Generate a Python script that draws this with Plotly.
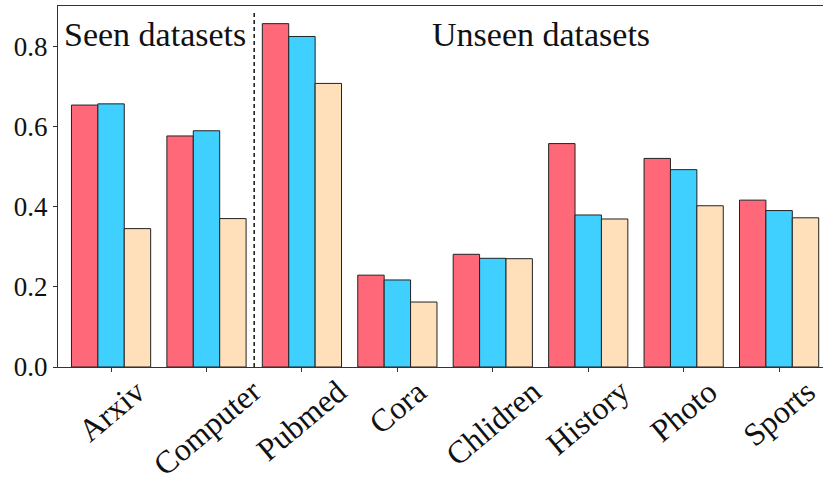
import plotly.graph_objects as go

categories = ["Arxiv", "Computer", "Pubmed", "Cora", "Chlidren", "History", "Photo", "Sports"]
series_a = [0.653, 0.576, 0.856, 0.229, 0.281, 0.557, 0.520, 0.416]
series_b = [0.656, 0.589, 0.824, 0.217, 0.271, 0.379, 0.492, 0.390]
series_c = [0.345, 0.370, 0.707, 0.162, 0.270, 0.369, 0.402, 0.372]
y_ticks = [0.0, 0.2, 0.4, 0.6, 0.8]

colors = ["#FF6878", "#3FD0FF", "#FFE0BA"]
FONT = "Liberation Serif"

fig = go.Figure()
for vals, col in zip([series_a, series_b, series_c], colors):
    fig.add_trace(go.Bar(
        x=categories, y=vals,
        marker=dict(color=col, line=dict(color="#222222", width=1)),
        showlegend=False,
    ))

fig.update_layout(
    width=823, height=479,
    margin=dict(l=58, r=0, t=6, b=112, autoexpand=False),
    paper_bgcolor="white", plot_bgcolor="white",
    barmode="group", bargap=0.17, bargroupgap=0,
    font=dict(family=FONT, color="#111111"),
)
fig.update_xaxes(
    type="category", range=[-0.556, 7.46], automargin=False,
    showline=True, linecolor="#333333", linewidth=1.2, mirror=True,
    ticks="outside", ticklen=4, tickcolor="#333333",
    showticklabels=False, showgrid=False, zeroline=False,
)
fig.update_yaxes(
    range=[0, 0.9], tickvals=y_ticks, ticktext=[f"{v:.1f}" for v in y_ticks],
    automargin=False,
    showline=True, linecolor="#333333", linewidth=1.2,
    ticks="outside", ticklen=4, tickcolor="#333333",
    tickfont=dict(family=FONT, size=27, color="#111111"),
    showgrid=False, zeroline=False,
)

fig.add_shape(type="line", xref="x", yref="y", x0=1.5, x1=1.5, y0=0, y1=0.89,
              line=dict(color="#222222", width=1.6, dash="4px,3px"))

for i, c in enumerate(categories):
    fig.add_annotation(x=i, y=0, xref="x", yref="y", text=c, showarrow=False,
                       textangle=-40, xanchor="center", yanchor="top", yshift=-3,
                       font=dict(family=FONT, size=32, color="#111111"))

fig.add_annotation(x=0.46, y=0.828, xref="x", yref="y", text="Seen datasets",
                   showarrow=False, font=dict(family=FONT, size=34, color="#111111"))
fig.add_annotation(x=4.5, y=0.828, xref="x", yref="y", text="Unseen datasets",
                   showarrow=False, font=dict(family=FONT, size=34, color="#111111"))

fig.write_html("out.html", config={"displayModeBar": False},
               post_script="document.body.style.margin='0px';")
